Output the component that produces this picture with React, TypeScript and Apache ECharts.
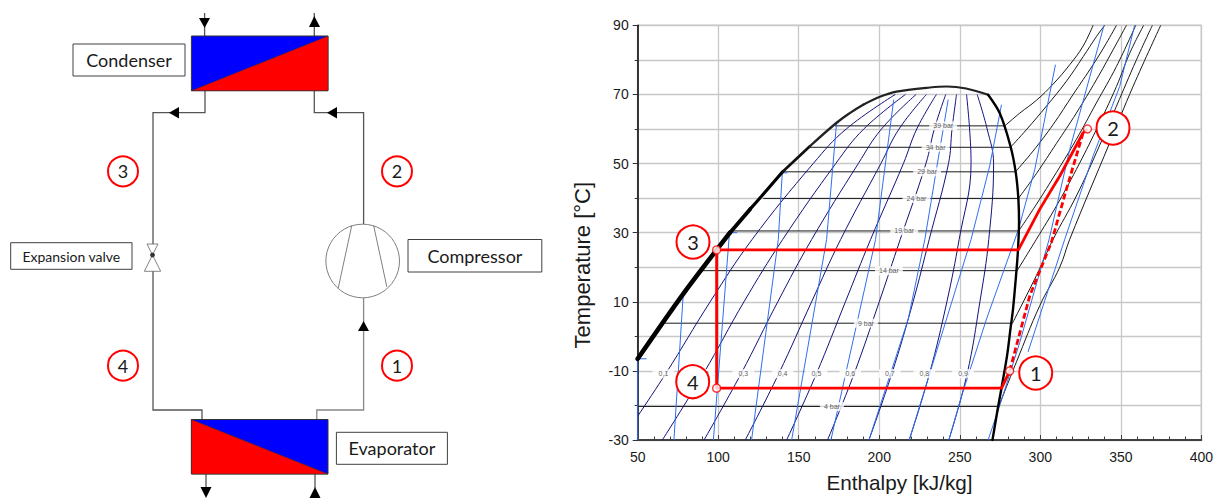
import React, { useEffect, useRef } from "react";
import * as echarts from "echarts";

const qualityTemps = [-30, -10.8, 10, 28, 50, 60, 70];
const q01 = [40, 67.4, 95, 121, 159, 179.5, 210];
const q02 = [65.3, 90.8, 116, 140, 173, 190.4, 216.3];
const q03 = [91.2, 114.2, 137, 158, 187, 201.4, 222.9];
const q04 = [116.8, 137.6, 158, 176, 201, 212.3, 229.3];
const q05 = [142.5, 161, 179, 194.6, 215, 223.3, 235.5];
const q06 = [167.9, 184.4, 200, 213, 229, 234.2, 241.3];
const q07 = [193.6, 207.8, 221, 231, 243, 245.2, 248];
const q08 = [218.6, 231.2, 242, 249.6, 257, 256.1, 254.2];
const q09 = [243.2, 254.6, 262.5, 268, 271, 267, 260.8];

const domeA = [[50, -6.5], [78.3, 12.3], [107.3, 30]];
const domeB = [[107.3, 30], [119.8, 36.8]];
const domeC = [[119.8, 36.8], [127, 40.6], [140, 47.6]];
const domeD = [[140, 47.6], [156.9, 55]];
const domeE = [[156.9, 55], [173.5, 61.8], [181.7, 64.6], [190, 67]];
const domeF = [[190, 67], [200.4, 69.3], [210.7, 70.8], [231.4, 72], [241.8, 72.3], [254, 71.7], [267.6, 69.9]];
const domeVapour = [[267.6, 69.9], [274.8, 64.6], [281.5, 55], [284.8, 47.3], [286.4, 39.7], [286.8, 33], [286.2, 25.4], [285.2, 19], [283.1, 8], [281.5, 2.2], [279.4, -5.5], [275.9, -15], [273.8, -20.4], [270.3, -30]];

const bar39 = [[172.5, 60.9], [278, 60.9], [287.3, 64.6], [297.6, 68.3], [308, 73], [318.3, 78.6], [326.6, 84], [332.8, 90]];
const bar34 = [[157, 54.7], [281.5, 54.7], [291.4, 59.8], [303.8, 66.6], [316.2, 73.8], [326.6, 80.9], [334.8, 86.7], [340, 90]];
const bar29 = [[140.4, 47.6], [284.6, 47.6], [295.5, 53.6], [308, 61.3], [320.4, 70], [332.8, 78.6], [341, 84.8], [347.3, 90]];
const bar24 = [[128, 39.9], [286.4, 39.9], [297.6, 47.1], [310, 55.8], [322.4, 64.6], [334.8, 74.2], [345.2, 82.9], [353.5, 90]];
const bar19 = [[107.3, 30.5], [286.6, 30.5], [297.6, 38.2], [310, 47.4], [322.4, 57], [334.8, 67.5], [347.3, 78.1], [359.3, 90]];
const bar14 = [[89.7, 19], [285.6, 19], [297.6, 28.1], [310, 37.7], [322.4, 48.3], [334.8, 59.8], [347.3, 72.3], [355.5, 81.9], [364.2, 90]];
const bar9 = [[67, 3.8], [282.7, 3.8], [297.6, 17.6], [308, 28.1], [322.4, 40.6], [334.8, 53.1], [347.3, 66.6], [359.7, 80], [369.6, 90]];
const bar4 = [[50, -20.3], [274.2, -20.3], [285.2, -7.4], [299.7, 8.9], [312.1, 20], [318.3, 28.1], [343.1, 56], [357.6, 72.3], [374.8, 90]];

const s1 = [[50, -30], [50, -6.5], [55.6, -6.5]];
const s2 = [[72.5, -30], [78.3, 12.3], [79.7, 12.3]];
const s3 = [[97, -30], [107, 30], [111.8, 30]];
const s4 = [[120.7, -30], [137.3, 28], [139.8, 47.3], [142.9, 47.3]];
const s5 = [[145.6, -30], [167.3, 28], [173.5, 61.8], [175, 61.8]];
const s6 = [[170, -30], [197.7, 28], [209, 68.5]];
const s7 = [[193.6, -30], [218, 5], [228.3, 28], [235.5, 48.3], [242.8, 68.5]];
const s8 = [[218.6, -30], [257, 28], [268.6, 49.3], [275.9, 67]];
const s9 = [[243.2, -30], [252, -16], [266.6, 5], [286.5, 31], [296.6, 48.3], [309.4, 78.6]];
const s10 = [[267.6, -30], [274.5, -20.5], [287.3, -1.7], [305.5, 28.1], [318.3, 54.1], [339.6, 90]];
const s11 = [[292.4, -4.5], [315.2, 28.1], [332.8, 52.2], [349.3, 72.3], [358.6, 90]];

const cycleSolid = [[281, -10], [276, -15], [99, -15], [99, 25], [286.4, 25], [299.7, 36.8], [312.1, 46.4], [326.6, 58.9], [329.3, 60]];
const cycleDashed = [[281, -10], [293.5, 11.8], [306.9, 27.2], [316.2, 42.5], [326.6, 58.9]];
const cyclePoints = [[99, 25], [99, -15], [281, -10], [329.3, 60]];

const isobarNames = ["39 bar", "34 bar", "29 bar", "24 bar", "19 bar", "14 bar", "9 bar", "4 bar"];
const isobarLabelH = [239.7, 235, 229.7, 223.1, 215.5, 206, 191.7, 170.6];
const isobarLabelT = [60.9, 54.7, 47.6, 39.9, 30.5, 19, 3.8, -20.3];
const qualityNames = ["0,1", "0,2", "0,3", "0,4", "0,5", "0,6", "0,7", "0,8", "0,9"];
const qualityLabelH = [66, 91, 115.6, 140, 161, 182, 206.6, 228, 252];
const qualityLabelT = -10.8;

const FONT = "Lato, 'Open Sans', sans-serif";
const ARIAL = "'Liberation Sans', Arial, sans-serif";
const PIPE = "#555555";

function curve(data: number[][], color: string, width: number, z = 2, extra: any = {}, smooth: any = false) {
  return {
    type: "line",
    data,
    showSymbol: false,
    symbol: "none",
    silent: true,
    smooth,
    z,
    lineStyle: { color, width, ...extra },
    clip: true,
  };
}

function tags(names: string[], hs: number[], ts: number[], padding: number[]) {
  return {
    type: "scatter",
    silent: true,
    z: 3,
    symbolSize: 1,
    itemStyle: { color: "rgba(0,0,0,0)" },
    data: names.map((n, i) => ({ name: n, value: [hs[i], ts[i]] })),
    label: {
      show: true,
      position: "inside",
      formatter: "{b}",
      fontSize: 7,
      fontFamily: ARIAL,
      color: "#333333",
      backgroundColor: "#ffffff",
      padding,
    },
  };
}

function pipe(points: number[][], stroke = PIPE) {
  return { type: "polyline", silent: true, shape: { points }, style: { stroke, lineWidth: 1.3, fill: "none" } };
}
function tri(points: number[][]) {
  return { type: "polygon", silent: true, shape: { points }, style: { fill: "#000000" } };
}
function box(x: number, y: number, width: number, height: number, text: string, fontSize: number) {
  return [
    { type: "rect", silent: true, shape: { x, y, width, height }, style: { fill: "#fff", stroke: "#404040", lineWidth: 1 } },
    { type: "text", silent: true, style: { x: x + width / 2, y: y + height / 2, text, fontSize, fontFamily: FONT, fill: "#1a1a1a", align: "center", verticalAlign: "middle" } },
  ];
}
function badge(cx: number, cy: number, r: number, text: string, fontSize: number) {
  return [
    { type: "circle", silent: true, shape: { cx, cy, r }, style: { fill: "#fff", stroke: "#ff0000", lineWidth: 2 } },
    { type: "text", silent: true, style: { x: cx, y: cy, text, fontSize, fontFamily: FONT, fill: "#1a1a1a", align: "center", verticalAlign: "middle" } },
  ];
}

const schematic: any[] = [
  pipe([[205, 90], [205, 112.7], [153, 112.7], [153, 244]]),
  pipe([[153, 271], [153, 410], [202, 410], [202, 420]]),
  pipe([[314.3, 90], [314.3, 112.7], [363.6, 112.7], [363.6, 224]]),
  pipe([[363.6, 298], [363.6, 410], [316.8, 410], [316.8, 420]], "#888888"),
  pipe([[204.6, 13], [204.6, 36]]),
  pipe([[314.3, 13], [314.3, 36]]),
  pipe([[206, 474], [206, 488]]),
  pipe([[315, 474], [315, 488]]),
  tri([[199, 18], [210, 18], [204.6, 28]]),
  tri([[309, 27], [320, 27], [314.3, 16]]),
  tri([[200.5, 487], [211.5, 487], [206, 498]]),
  tri([[309.5, 498], [320.5, 498], [315, 487]]),
  tri([[169, 112.7], [179, 107], [179, 118.5]]),
  tri([[327, 112.7], [337, 107], [337, 118.5]]),
  tri([[363.6, 321], [358, 331], [369, 331]]),
  { type: "rect", silent: true, shape: { x: 191.4, y: 36, width: 136.6, height: 54.7 }, style: { fill: "#0000ff", stroke: "#333", lineWidth: 1 } },
  { type: "polygon", silent: true, shape: { points: [[191.4, 90.7], [328, 36], [328, 90.7]] }, style: { fill: "#ff0000", stroke: "#333", lineWidth: 0.6 } },
  { type: "rect", silent: true, shape: { x: 191.4, y: 419.5, width: 136.6, height: 54.5 }, style: { fill: "#0000ff", stroke: "#333", lineWidth: 1 } },
  { type: "polygon", silent: true, shape: { points: [[191.4, 419.5], [328, 474], [191.4, 474]] }, style: { fill: "#ff0000", stroke: "#333", lineWidth: 0.6 } },
  { type: "circle", silent: true, shape: { cx: 362.7, cy: 261, r: 36.8 }, style: { fill: "#fff", stroke: "#808080", lineWidth: 1 } },
  { type: "line", silent: true, shape: { x1: 351.8, y1: 225.3, x2: 338.2, y2: 288.3 }, style: { stroke: "#808080", lineWidth: 1 } },
  { type: "line", silent: true, shape: { x1: 373.6, y1: 225.3, x2: 386.8, y2: 286.7 }, style: { stroke: "#808080", lineWidth: 1 } },
  { type: "polygon", silent: true, shape: { points: [[147, 244], [158, 244], [152.5, 255]] }, style: { fill: "#fff", stroke: "#666", lineWidth: 0.8 } },
  { type: "polygon", silent: true, shape: { points: [[152.5, 255], [144.3, 271.3], [160.7, 271.3]] }, style: { fill: "#fff", stroke: "#666", lineWidth: 0.8 } },
  { type: "circle", silent: true, shape: { cx: 152.5, cy: 255, r: 2.4 }, style: { fill: "#333" } },
  ...box(73, 44, 112, 32, "Condenser", 18),
  ...box(408, 239.5, 133.8, 32.5, "Compressor", 18),
  ...box(336.4, 432.3, 111, 32, "Evaporator", 18),
  ...box(10.7, 242.7, 121.3, 26.6, "Expansion valve", 14),
  ...badge(123, 171.3, 15, "3", 18),
  ...badge(397, 171.3, 15, "2", 18),
  ...badge(123, 365.7, 15, "4", 18),
  ...badge(397, 365.7, 15, "1", 18),
  ...badge(1113, 128, 16.5, "2", 20),
  ...badge(1035.7, 373, 16.5, "1", 20),
  ...badge(693, 242, 16.5, "3", 20),
  ...badge(692.7, 381.7, 16.5, "4", 20),
].map((el) => ({ ...el, z: 100 }));

const qualitySeries = [q01, q02, q03, q04, q05, q06, q07, q08, q09].map((row) =>
  curve(row.map((h, i) => [h, qualityTemps[i]]), "#12127a", 1, 2, {}, 0.4)
);
const isobars = [bar39, bar34, bar29, bar24, bar19, bar14, bar9, bar4];

export default function App() {
  const ref = useRef<HTMLDivElement>(null);
  useEffect(() => {
    document.body.style.margin = "0";
    const chart = echarts.init(ref.current!, undefined, { renderer: "svg" });
    const dome = { cap: "round" };
    chart.setOption({
      animation: false,
      backgroundColor: "#ffffff",
      grid: { left: 637.7, top: 25.3, right: 14.3, bottom: 56.3, show: true, borderColor: "#808080", borderWidth: 1, backgroundColor: "transparent" },
      xAxis: {
        type: "value", min: 50, max: 400, interval: 50,
        name: "Enthalpy [kJ/kg]", nameLocation: "middle", nameGap: 32,
        nameTextStyle: { fontFamily: ARIAL, fontSize: 20.7, color: "#1a1a1a", padding: [0, 40, 0, 0] },
        axisLine: { show: true, onZero: false, lineStyle: { color: "#404040", width: 2 } },
        axisTick: { show: true, inside: true, length: 5, lineStyle: { color: "#404040", width: 1 } },
        minorTick: { show: true, splitNumber: 5, length: 3.5, lineStyle: { color: "#404040", width: 1 } },
        axisLabel: { fontFamily: ARIAL, fontSize: 14, color: "#1a1a1a", margin: 10, showMinLabel: true, showMaxLabel: true },
        splitLine: { show: true, lineStyle: { color: "#c8c8c8", width: 1.3 } },
      },
      yAxis: {
        type: "value", min: -30, max: 90, interval: 20,
        name: "Temperature [°C]", nameLocation: "middle", nameGap: 44,
        nameTextStyle: { fontFamily: ARIAL, fontSize: 22, color: "#1a1a1a", padding: [0, 65, 0, 0] },
        axisLine: { show: true, onZero: false, lineStyle: { color: "#000000", width: 1.5 } },
        axisTick: { show: true, length: 5, lineStyle: { color: "#333333", width: 1 } },
        minorTick: { show: true, splitNumber: 2, length: 3, lineStyle: { color: "#333333", width: 1 } },
        axisLabel: { fontFamily: ARIAL, fontSize: 14, color: "#1a1a1a", margin: 9, showMinLabel: true, showMaxLabel: true },
        splitLine: { show: true, lineStyle: { color: "#c8c8c8", width: 1.3 } },
        minorSplitLine: { show: true, lineStyle: { color: "#c8c8c8", width: 1.3 } },
      },
      series: [
        ...isobars.map((d) => curve(d.slice(0, 2), "#1a1a1a", 1)),
        ...isobars.map((d) => curve(d.slice(1), "#1a1a1a", 1, 2, {}, 0.4)),
        ...qualitySeries,
        ...[s1, s2, s3, s4, s5, s6, s7, s8, s9, s10, s11].map((d) => curve(d, "#2f6fee", 1)),
        curve(domeA, "#000000", 4.6, 4, dome, 0.3),
        curve(domeB, "#000000", 3.9, 4, dome),
        curve(domeC, "#000000", 3.2, 4, dome, 0.3),
        curve(domeD, "#111111", 2.7, 4, dome),
        curve(domeE, "#222222", 2.3, 4, dome, 0.4),
        curve(domeF, "#222222", 2.1, 4, dome, 0.3),
        curve(domeVapour, "#000000", 2.4, 4, dome, 0.3),
        tags(isobarNames, isobarLabelH, isobarLabelT, [1, 4]),
        tags(qualityNames, qualityLabelH, qualityNames.map(() => qualityLabelT), [1, 6]),
        curve(cycleSolid, "#ff0000", 2.8, 6),
        curve(cycleDashed, "#ff0000", 2.8, 6, { type: [6, 3] }),
        {
          type: "scatter", silent: true, z: 7, symbolSize: 8, data: cyclePoints,
          itemStyle: { color: "#ffffff", borderColor: "#ff0000", borderWidth: 1.4 },
        },
      ],
      graphic: schematic,
    });
    return () => chart.dispose();
  }, []);
  return <div ref={ref} style={{ width: 1216, height: 498, position: "fixed", left: 0, top: 0 }} />;
}
